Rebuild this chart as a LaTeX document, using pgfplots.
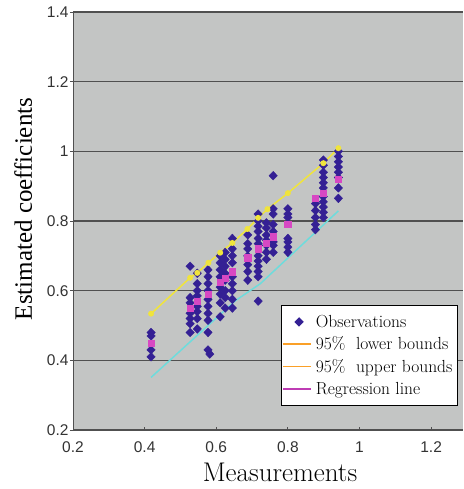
\documentclass[border=0pt]{standalone}
\usepackage{fontspec}
\usepackage{pgfplots}
\pgfplotsset{compat=1.18}
\newfontfamily\ticksans{Liberation Sans}
\newfontfamily\timesfont{Liberation Serif}
\definecolor{bggray}{RGB}{195,197,196}
\definecolor{gridc}{RGB}{80,80,80}
\definecolor{obs}{RGB}{52,32,148}
\definecolor{reg}{RGB}{215,72,195}
\definecolor{upc}{RGB}{240,228,60}
\definecolor{loc}{RGB}{110,220,220}
\definecolor{legor}{RGB}{250,160,40}
\definecolor{legmag}{RGB}{190,60,180}
\begin{document}
\begin{tikzpicture}
\begin{axis}[
  name=ax, scale only axis, width=390pt, height=418pt,
  xmin=0.2, xmax=1.289, ymin=0.2, ymax=1.4,
  xtick={0.2,0.4,0.6,0.8,1,1.2},
  ytick={0.2,0.4,0.6,0.8,1,1.2,1.4},
  axis lines=left,
  axis line style={-, draw=gridc, line width=1pt},
  axis background/.style={fill=bggray},
  ymajorgrids, grid style={gridc, line width=1.2pt},
  xtick align=inside, ytick align=outside,
  major tick length=3pt,
  tick style={gridc, line width=0.8pt},
  /pgf/number format/assume math mode=true,
  tick label style={font=\ticksans\fontsize{15.5}{18}\selectfont, text=black!80},
  xticklabel style={yshift=-8pt},
  yticklabel style={xshift=2pt},
  xlabel={Measurements},
  ylabel={\timesfont Estimated coefficients},
  xlabel style={font=\fontsize{27}{32}\selectfont, yshift=-4pt, xshift=12pt},
  ylabel style={font=\fontsize{25}{30}\selectfont, yshift=8pt, xshift=12pt},
  legend style={at={(0.987,0.299)}, anchor=north east, draw=black, line width=1pt, fill=white,
     font=\fontsize{17.5}{21}\selectfont, row sep=4pt, inner xsep=1pt, inner ysep=7.5pt,
     nodes={inner xsep=4pt}},
  legend cell align=left,
]
\addplot[only marks, mark=diamond*, mark size=4.3pt, mark options={xscale=1.3}, obs, forget plot] coordinates {
(0.418,0.48)(0.418,0.47)(0.418,0.43)(0.418,0.41)
(0.527,0.67)(0.527,0.58)(0.527,0.565)(0.527,0.535)(0.527,0.52)(0.527,0.505)(0.527,0.48)
(0.547,0.65)(0.547,0.62)(0.547,0.60)(0.547,0.585)(0.547,0.555)(0.547,0.54)(0.547,0.52)(0.547,0.49)
(0.577,0.66)(0.577,0.64)(0.577,0.62)(0.577,0.60)(0.577,0.575)(0.577,0.555)(0.577,0.535)(0.577,0.515)(0.577,0.48)(0.577,0.43)(0.582,0.418)
(0.611,0.70)(0.611,0.68)(0.611,0.66)(0.611,0.64)(0.611,0.61)(0.611,0.59)(0.611,0.565)(0.611,0.525)
(0.625,0.71)(0.625,0.69)(0.625,0.67)(0.625,0.65)(0.625,0.63)(0.625,0.60)(0.625,0.58)(0.625,0.55)
(0.645,0.75)(0.645,0.72)(0.645,0.70)(0.645,0.68)(0.645,0.64)(0.645,0.62)(0.645,0.60)(0.645,0.575)(0.645,0.55)
(0.688,0.76)(0.688,0.735)(0.688,0.72)(0.688,0.70)(0.688,0.675)(0.688,0.655)(0.688,0.63)
(0.717,0.82)(0.717,0.80)(0.717,0.785)(0.717,0.77)(0.717,0.75)(0.717,0.735)(0.717,0.70)(0.717,0.685)(0.717,0.67)(0.717,0.655)(0.717,0.64)(0.717,0.57)
(0.740,0.795)(0.740,0.78)(0.740,0.76)(0.740,0.745)(0.740,0.73)(0.740,0.71)(0.740,0.69)
(0.759,0.93)(0.759,0.835)(0.759,0.82)(0.759,0.79)(0.759,0.77)(0.759,0.74)(0.759,0.73)(0.759,0.71)
(0.800,0.835)(0.800,0.82)(0.800,0.81)(0.800,0.75)(0.800,0.74)(0.800,0.725)(0.800,0.71)
(0.877,0.85)(0.877,0.83)(0.877,0.81)(0.877,0.79)(0.877,0.775)
(0.899,0.975)(0.899,0.96)(0.899,0.94)(0.899,0.925)(0.899,0.91)(0.899,0.895)(0.899,0.87)(0.899,0.855)(0.899,0.84)(0.899,0.825)(0.899,0.81)
(0.941,1.0)(0.941,0.985)(0.941,0.97)(0.941,0.955)(0.941,0.94)(0.941,0.925)(0.941,0.895)(0.941,0.865)
};
\addplot[upc, line width=1.5pt, mark=*, mark size=2.2pt, forget plot] coordinates {
(0.418,0.534)(0.527,0.637)(0.547,0.651)(0.578,0.68)(0.611,0.709)(0.645,0.737)(0.687,0.777)(0.717,0.809)(0.743,0.834)(0.80,0.88)(0.899,0.966)(0.941,1.009)
};
\addplot[loc, line width=1.5pt, forget plot] coordinates {
(0.418,0.351)(0.653,0.571)(0.723,0.62)(0.941,0.829)
};
\addplot[only marks, mark=square*, mark size=3.2pt, reg, forget plot] coordinates {
(0.418,0.45)(0.527,0.55)(0.547,0.57)(0.577,0.59)(0.611,0.625)(0.625,0.635)(0.645,0.655)(0.688,0.695)(0.717,0.72)(0.740,0.737)(0.759,0.755)(0.800,0.79)(0.877,0.865)(0.899,0.88)(0.941,0.92)
};
\addlegendimage{legend image code/.code={\fill[obs] (16pt,4pt) -- (20pt,0pt) -- (16pt,-4pt) -- (12pt,0pt) -- cycle;}}
\addlegendentry{Observations}
\addlegendimage{legend image code/.code={\draw[legor, line width=1.6pt] (0pt,0pt) -- (28pt,0pt);}}
\addlegendentry{95\% \ lower bounds}
\addlegendimage{legend image code/.code={\draw[legor, line width=1.6pt] (0pt,0pt) -- (28pt,0pt);}}
\addlegendentry{95\% \ upper bounds}
\addlegendimage{legend image code/.code={\draw[legmag, line width=1.6pt] (0pt,0pt) -- (28pt,0pt);}}
\addlegendentry{Regression line}
\end{axis}
\pgfresetboundingbox
\path ([xshift=-73pt,yshift=-59pt]ax.south west) rectangle ([yshift=12pt]ax.north east);
\end{tikzpicture}
\end{document}
